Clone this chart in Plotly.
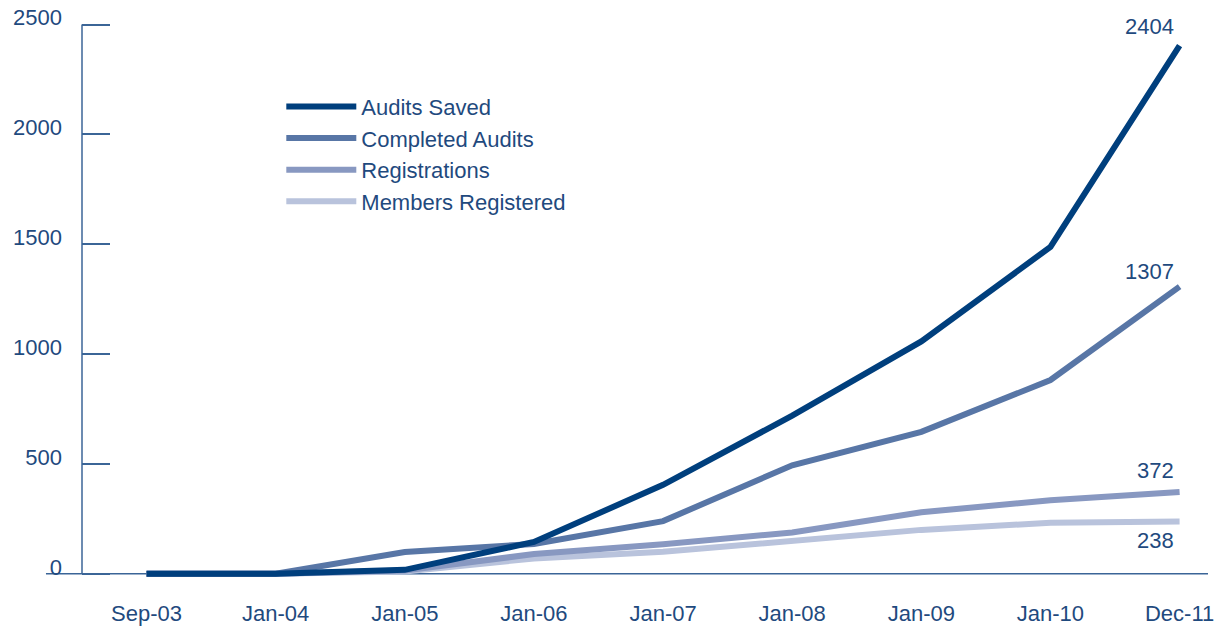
import plotly.graph_objects as go

categories = ["Sep-03", "Jan-04", "Jan-05", "Jan-06", "Jan-07", "Jan-08", "Jan-09", "Jan-10", "Dec-11"]
audits_saved = [0, 0, 18, 145, 405, 720, 1058, 1488, 2404]
completed_audits = [0, 0, 99, 136, 240, 494, 646, 882, 1307]
registrations = [0, 0, 15, 90, 135, 188, 280, 335, 372]
members_registered = [0, 0, 10, 70, 100, 150, 200, 232, 238]
y_ticks = [0, 500, 1000, 1500, 2000, 2500]

TEXT = "#1f4a7e"
AXIS = "#3b6597"
FONT = "Liberation Sans, Arial, Helvetica, sans-serif"
FS = 22

# (name, values, colour, legend rank) - drawn bottom to top
series = [
    ("Members Registered", members_registered, "#b9c3dc", 4),
    ("Registrations", registrations, "#8898c1", 3),
    ("Completed Audits", completed_audits, "#5876a6", 2),
    ("Audits Saved", audits_saved, "#003f7d", 1),
]

fig = go.Figure()
for name, vals, col, rank in series:
    fig.add_trace(go.Scatter(
        x=categories, y=vals, name=name, mode="lines", legendrank=rank,
        line=dict(color=col, width=6),
    ))

# end-value labels
label_specs = [
    (audits_saved, "bottom", 5),
    (completed_audits, "bottom", 1),
    (registrations, "bottom", 7),
    (members_registered, "top", -4),
]
for vals, yanch, ysh in label_specs:
    fig.add_annotation(
        x=categories[-1], y=vals[-1], text=str(vals[-1]), showarrow=False,
        xanchor="right", yanchor=yanch, xshift=-4, yshift=ysh,
        font=dict(size=FS, color=TEXT, family=FONT),
    )

# axis lines
fig.add_shape(type="line", xref="paper", yref="y", x0=-0.032, x1=1, y0=0, y1=0,
              line=dict(color=AXIS, width=1.5), layer="below")
fig.add_shape(type="line", xref="paper", yref="y", x0=0, x1=0, y0=0, y1=y_ticks[-1],
              line=dict(color=AXIS, width=1.5), layer="below")

fig.update_layout(
    width=1218, height=626,
    margin=dict(l=82, r=10, t=18, b=39),
    paper_bgcolor="white", plot_bgcolor="white",
    font=dict(family=FONT, color=TEXT, size=FS),
    showlegend=True,
    legend=dict(
        x=0.177, y=0.881, xanchor="left", yanchor="top",
        traceorder="normal", bgcolor="rgba(0,0,0,0)",
        font=dict(size=FS, color=TEXT, family=FONT),
        itemwidth=70,
    ),
    xaxis=dict(
        type="category", range=[-0.5, 8.22], automargin=False,
        showgrid=False, zeroline=False, showline=False, ticks="",
        tickfont=dict(size=FS, color=TEXT, family=FONT),
        ticklabelstandoff=11,
    ),
    yaxis=dict(
        range=[-60, 2530], automargin=False,
        tickvals=y_ticks, ticktext=[str(v) for v in y_ticks],
        showgrid=False, zeroline=False, showline=False,
        ticks="inside", ticklen=28, tickcolor=AXIS, tickwidth=1.5,
        tickfont=dict(size=FS, color=TEXT, family=FONT),
        ticklabelstandoff=19, ticklabelshift=-7,
    ),
)

fig.write_html("out.html", config={"displayModeBar": False},
               post_script="document.body.style.margin='0px';")
